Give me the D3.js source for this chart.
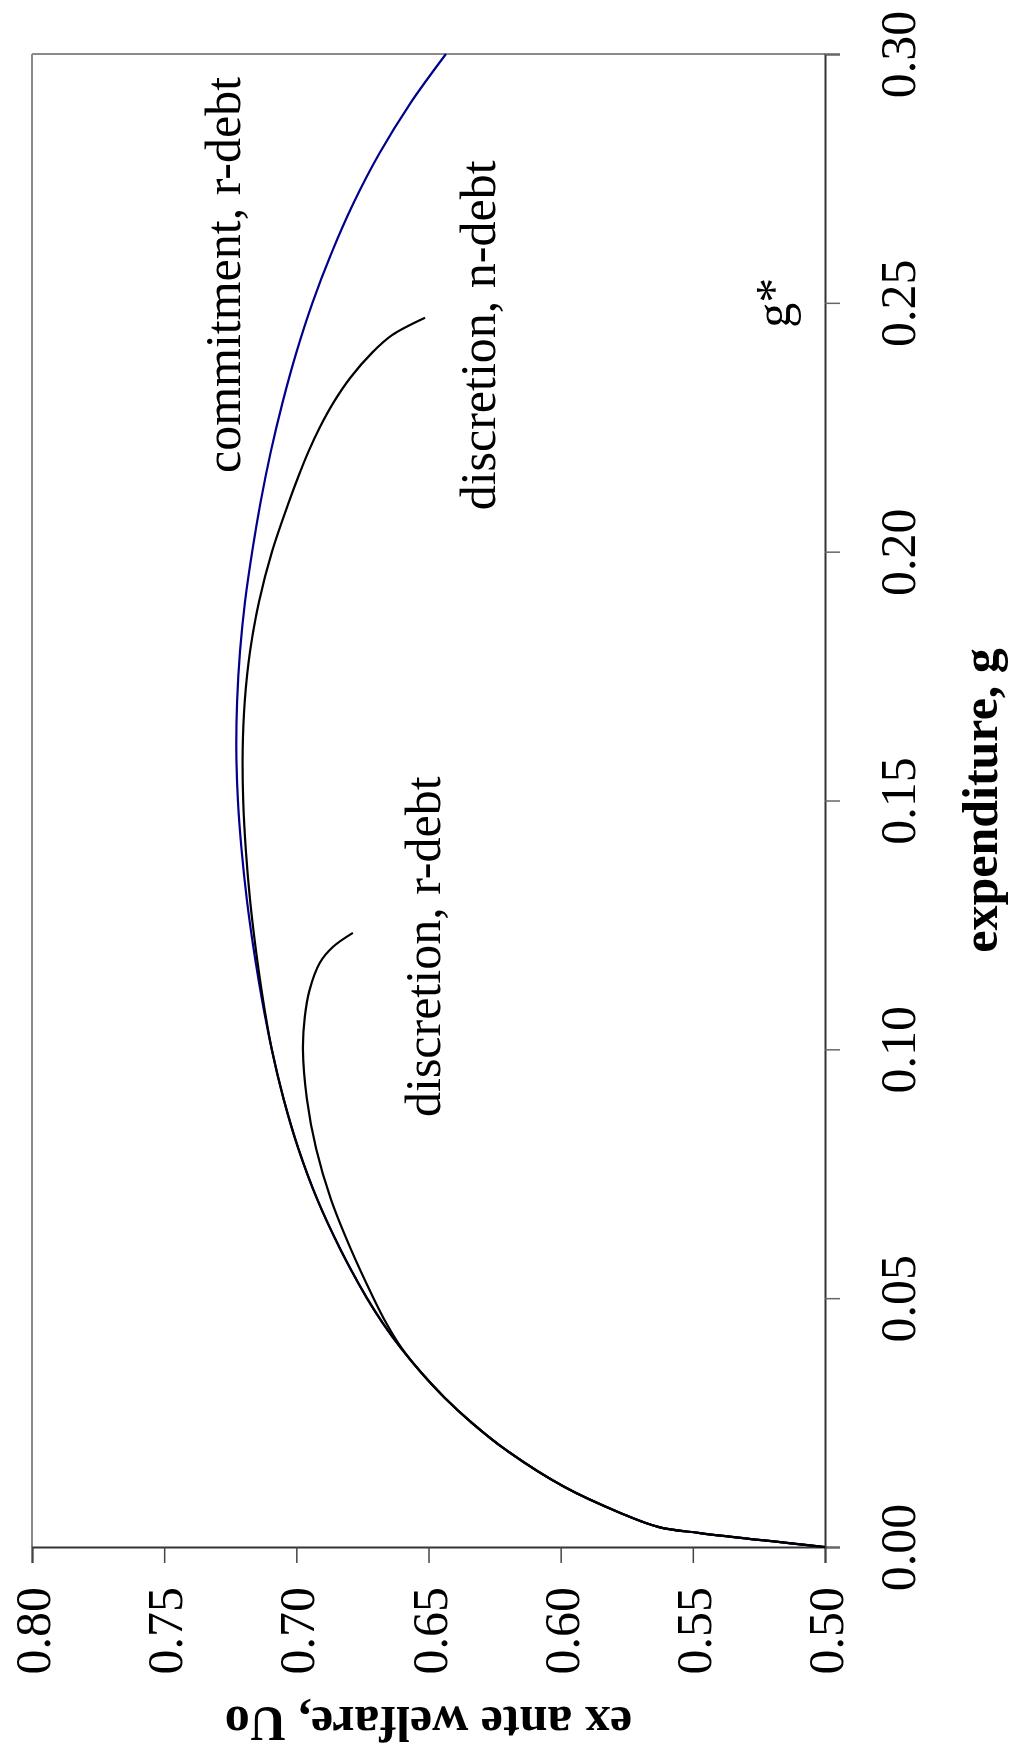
<!DOCTYPE html>
<html>
<head>
<meta charset="utf-8">
<script src="https://cdn.jsdelivr.net/npm/d3@7"></script>
<style>
  html, body { margin: 0; padding: 0; background: #fff; }
  svg { display: block; }
  text { font-family: "Liberation Serif", "Times New Roman", serif; fill: #000; }
</style>
</head>
<body>
<svg id="chart" width="1011" height="1752"></svg>
<script>
// ---- data ----
const gTicks = [0, 0.05, 0.10, 0.15, 0.20, 0.25, 0.30];
const gTickLabels = ["0.00", "0.05", "0.10", "0.15", "0.20", "0.25", "0.30"];
const uTicks = [0.50, 0.55, 0.60, 0.65, 0.70, 0.75, 0.80];
const uTickLabels = ["0.50", "0.55", "0.60", "0.65", "0.70", "0.75", "0.80"];

// commitment, r-debt (blue)
const commitG = [0, 0.0028, 0.0040, 0.0068, 0.0121, 0.0195, 0.025, 0.030, 0.035, 0.040, 0.045, 0.050, 0.06, 0.07, 0.08, 0.09, 0.10, 0.11, 0.12, 0.13, 0.14, 0.15, 0.16, 0.17, 0.18, 0.19, 0.20, 0.21, 0.22, 0.23, 0.24, 0.25, 0.26, 0.27, 0.28, 0.29, 0.30];
const commitU = [0.500, 0.5473, 0.5628, 0.5772, 0.5987, 0.6207, 0.6337, 0.6439, 0.6527, 0.6605, 0.6673, 0.6733, 0.6835, 0.6922, 0.6992, 0.7048, 0.7093, 0.7130, 0.7161, 0.7187, 0.7207, 0.7221, 0.7227, 0.7224, 0.7213, 0.7194, 0.7167, 0.7135, 0.7097, 0.7052, 0.7000, 0.6939, 0.6867, 0.6784, 0.6686, 0.6570, 0.6434];

// discretion, n-debt (black)
const nDebtG = [0, 0.0028, 0.0040, 0.0068, 0.0121, 0.0195, 0.025, 0.030, 0.035, 0.040, 0.045, 0.050, 0.06, 0.07, 0.08, 0.09, 0.10, 0.11, 0.12, 0.13, 0.14, 0.15, 0.16, 0.17, 0.18, 0.19, 0.20, 0.21, 0.215, 0.22, 0.225, 0.23, 0.235, 0.24, 0.2435, 0.2470];
const nDebtU = [0.500, 0.5473, 0.5628, 0.5772, 0.5987, 0.6207, 0.6337, 0.6439, 0.6527, 0.6605, 0.6673, 0.6733, 0.6835, 0.6922, 0.6992, 0.7048, 0.7093, 0.7126, 0.7153, 0.7175, 0.7191, 0.7201, 0.7203, 0.7195, 0.7175, 0.7141, 0.7092, 0.7028, 0.6993, 0.6955, 0.6911, 0.6859, 0.6795, 0.6713, 0.6638, 0.6513];

// discretion, r-debt (black)
const rDebtG = [0, 0.0028, 0.0040, 0.0068, 0.0121, 0.0195, 0.025, 0.030, 0.035, 0.040, 0.045, 0.050, 0.06, 0.07, 0.08, 0.09, 0.10, 0.1065, 0.1119, 0.1174, 0.1206, 0.1234];
const rDebtU = [0.500, 0.5473, 0.5628, 0.5772, 0.5987, 0.6207, 0.6337, 0.6439, 0.6527, 0.6602, 0.6660, 0.6708, 0.6795, 0.6870, 0.6925, 0.6960, 0.6975, 0.6968, 0.6950, 0.6911, 0.6861, 0.6786];

const labelTexts = ["commitment, r-debt", "discretion, n-debt", "discretion, r-debt", "g*"];
const labelG = [0.2158, 0.2083, 0.0864, 0.25];
const labelU = [0.7213, 0.6248, 0.6456, 0.5132];

// ---- layout (screen coordinates; chart is drawn rotated 90deg CCW) ----
const svg = d3.select("#chart");
svg.append("rect").attr("width", 1011).attr("height", 1752).attr("fill", "#fff");

const plotLeft = 32, plotRight = 825, plotTop = 54, plotBottom = 1547;
const gScale = d3.scaleLinear().domain([0, 0.30]).range([plotBottom, plotTop]);   // vertical
const uScale = d3.scaleLinear().domain([0.50, 0.80]).range([plotRight, plotLeft]); // horizontal

// frame (gray) top & left
svg.append("line").attr("x1", plotLeft).attr("x2", plotRight).attr("y1", plotTop).attr("y2", plotTop)
  .attr("stroke", "#8a8a8a").attr("stroke-width", 2);
svg.append("line").attr("x1", plotLeft).attr("x2", plotLeft).attr("y1", plotTop).attr("y2", plotBottom)
  .attr("stroke", "#8a8a8a").attr("stroke-width", 2);

// g axis (right side)
const gAxis = svg.append("g").attr("transform", `translate(${plotRight},0)`)
  .call(d3.axisRight(gScale).tickValues(gTicks).tickFormat((d, i) => gTickLabels[i]).tickSizeOuter(0).tickSize(15));
gAxis.select(".domain").attr("stroke", "#333").attr("stroke-width", 2);
gAxis.selectAll(".tick line").attr("stroke", "#666").attr("stroke-width", 1.5);
gAxis.selectAll(".tick text")
  .attr("x", null).attr("dy", null)
  .attr("text-anchor", "middle")
  .attr("transform", "translate(90,0) rotate(-90)")
  .style("font-size", "50px")
  .style("font-family", "'Liberation Serif', serif");

// U axis (bottom)
const uAxis = svg.append("g").attr("transform", `translate(0,${plotBottom})`)
  .call(d3.axisBottom(uScale).tickValues(uTicks).tickFormat((d, i) => uTickLabels[i]).tickSizeOuter(0).tickSize(16));
uAxis.select(".domain").attr("stroke", "#333").attr("stroke-width", 2);
uAxis.selectAll(".tick line").attr("stroke", "#444").attr("stroke-width", 1.5);
uAxis.selectAll(".tick text")
  .attr("y", null).attr("dy", "0.35em")
  .attr("text-anchor", "end")
  .attr("transform", "translate(0,40) rotate(-90)")
  .style("font-size", "50px")
  .style("font-family", "'Liberation Serif', serif");

// curves
const line = d3.line().x(d => uScale(d.U)).y(d => gScale(d.g)).curve(d3.curveCatmullRom.alpha(0.5));
const zip = (G, U) => G.map((g, i) => ({ g, U: U[i] }));

svg.append("path").datum(zip(commitG, commitU)).attr("d", line)
  .attr("fill", "none").attr("stroke", "#00008c").attr("stroke-width", 2.2);
svg.append("path").datum(zip(nDebtG, nDebtU)).attr("d", line)
  .attr("fill", "none").attr("stroke", "#000").attr("stroke-width", 2.2);
svg.append("path").datum(zip(rDebtG, rDebtU)).attr("d", line)
  .attr("fill", "none").attr("stroke", "#000").attr("stroke-width", 2.2);

// annotations
labelTexts.forEach((t, i) => {
  svg.append("text")
    .attr("transform", `translate(${uScale(labelU[i])},${gScale(labelG[i])}) rotate(-90)`)
    .attr("text-anchor", t === "g*" ? "middle" : "start")
    .style("font-size", "50px")
    .text(t);
});

// axis titles
svg.append("text")
  .attr("transform", `translate(997,${(plotTop + plotBottom) / 2}) rotate(-90)`)
  .attr("text-anchor", "middle")
  .style("font-size", "50px").style("font-weight", "bold")
  .text("expenditure, g");

svg.append("text")
  .attr("transform", `translate(${(plotLeft + plotRight) / 2},1707) rotate(180)`)
  .attr("text-anchor", "middle")
  .style("font-size", "50px").style("font-weight", "bold")
  .text("ex ante welfare, Uo");
</script>
</body>
</html>
